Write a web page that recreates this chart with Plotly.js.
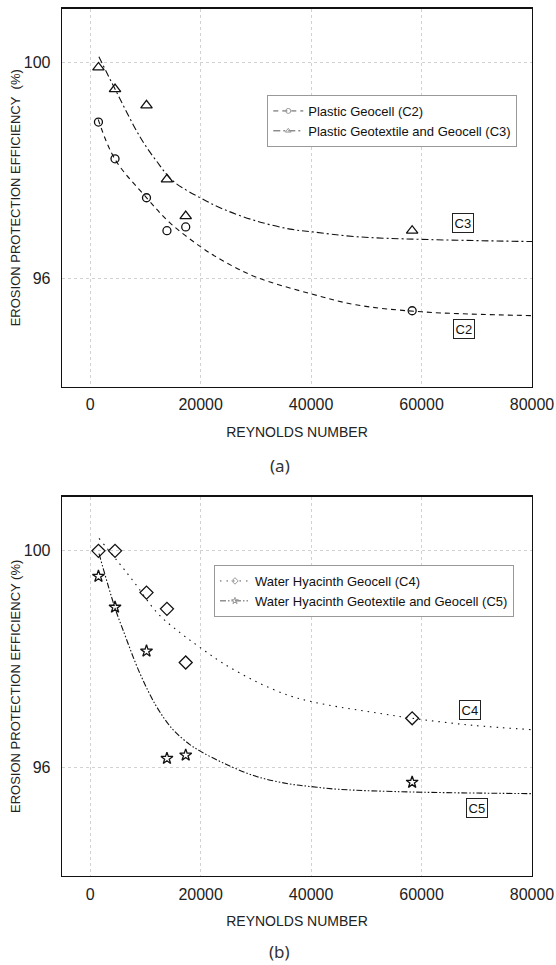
<!DOCTYPE html>
<html>
<head>
<meta charset="utf-8">
<script src="https://cdn.plot.ly/plotly-3.0.1.min.js"></script>
<style>html,body{margin:0;padding:0;background:#fff;}#chart{width:556px;height:965px;}</style>
</head>
<body>
<div id="chart"></div>
<script>
// Measured points (Reynolds number vs erosion protection efficiency, %)
const reynolds = [1500, 4500, 10200, 13900, 17300, 58300];
const c2Eff = [98.90, 98.22, 97.50, 96.89, 96.96, 95.41];
const c3Eff = [99.91, 99.51, 99.21, 97.84, 97.16, 96.89];
const c4Eff = [100.00, 100.00, 99.23, 98.93, 97.94, 96.91];
const c5Eff = [99.53, 98.96, 98.15, 96.17, 96.23, 95.73];

// Trend curves
const c2CurveX = [1450, 4500, 10300, 14400, 19900, 24100, 30100, 40100, 48100, 60000, 80000];
const c2CurveY = [98.95, 98.21, 97.49, 97.04, 96.60, 96.33, 96.03, 95.72, 95.52, 95.39, 95.32];
const c3CurveX = [1575, 4500, 9000, 12000, 15000, 19900, 24100, 30100, 36200, 40100, 48100, 60000, 80000];
const c3CurveY = [100.11, 99.51, 98.63, 98.18, 97.81, 97.50, 97.29, 97.07, 96.92, 96.87, 96.78, 96.73, 96.69];
const c4CurveX = [1600, 4800, 7900, 12200, 16400, 20000, 24000, 30000, 36000, 40000, 45000, 51200, 58300, 69300, 80000];
const c4CurveY = [100.23, 99.83, 99.43, 98.85, 98.48, 98.21, 97.93, 97.59, 97.33, 97.22, 97.12, 97.02, 96.91, 96.78, 96.70];
const c5CurveX = [1600, 4450, 5950, 8960, 12000, 15000, 18000, 20000, 24000, 30000, 36000, 40000, 45000, 58300, 80000];
const c5CurveY = [99.95, 98.96, 98.54, 97.75, 97.13, 96.70, 96.43, 96.30, 96.09, 95.84, 95.70, 95.65, 95.60, 95.55, 95.52];

const seriesNames = ["Plastic Geocell (C2)", "Plastic Geotextile and Geocell (C3)",
                     "Water Hyacinth Geocell (C4)", "Water Hyacinth Geotextile and Geocell (C5)"];
const curveLabels = ["C2", "C3", "C4", "C5"];
const xTickVals = [0, 20000, 40000, 60000, 80000];
const yTickVals = [96, 100];
const xTitle = "REYNOLDS NUMBER";
const yTitleA = "EROSION PROTECTION EFFICIENCY\u00a0 (%)";
const yTitleB = "EROSION PROTECTION EFFICIENCY (%)";

const FONT = "Liberation Sans, Arial, sans-serif";
const dashC2 = "5px,4px";
const dashC3 = "7px,3px,2px,3px";
const dashC4 = "1.5px,5px";
const dashC5 = "6px,2px,1.5px,2px,1.5px,2px";

function curve(x, y, dash, xa, ya) {
  return {x: x, y: y, xaxis: xa, yaxis: ya, mode: "lines", showlegend: false,
          line: {color: "#111", width: 1.1, dash: dash, shape: "spline", smoothing: 1}, hoverinfo: "skip"};
}
function pts(x, y, sym, size, xa, ya) {
  return {x: x, y: y, xaxis: xa, yaxis: ya, mode: "markers", showlegend: false,
          marker: {symbol: sym, size: size, color: "#111", line: {color: "#111", width: 1.3}}};
}
function leg(name, sym, dash, xa, ya, lg) {
  return {x: [null], y: [null], xaxis: xa, yaxis: ya, mode: "lines+markers", name: name, legend: lg,
          line: {color: "#444", width: 0.9, dash: dash},
          marker: {symbol: sym, size: 5, color: "#999", line: {color: "#999", width: 1}}};
}

const data = [
  curve(c2CurveX, c2CurveY, dashC2, "x", "y"),
  curve(c3CurveX, c3CurveY, dashC3, "x", "y"),
  pts(reynolds, c2Eff, "circle-open", 8, "x", "y"),
  pts(reynolds, c3Eff, "triangle-up-open", 10, "x", "y"),
  leg(seriesNames[0], "circle-open", dashC2, "x", "y", "legend"),
  leg(seriesNames[1], "triangle-up-open", dashC3, "x", "y", "legend"),
  curve(c4CurveX, c4CurveY, dashC4, "x2", "y2"),
  curve(c5CurveX, c5CurveY, dashC5, "x2", "y2"),
  pts(reynolds, c4Eff, "diamond-open", 10, "x2", "y2"),
  pts(reynolds, c5Eff, "star-open", 9, "x2", "y2"),
  leg(seriesNames[2], "diamond-open", dashC4, "x2", "y2", "legend2"),
  leg(seriesNames[3], "star-open", dashC5, "x2", "y2", "legend2")
];

function xAxis(anchor) {
  return {domain: [0, 1], anchor: anchor, range: [-5100, 80000], tickvals: xTickVals, tickformat: "d",
          showgrid: true, gridcolor: "#d2d2d2", griddash: "3px,3px", gridwidth: 1, zeroline: false,
          showline: true, mirror: true, linecolor: "#111", linewidth: 1.3, ticks: "",
          ticklabelstandoff: 3, tickfont: {family: FONT, size: 16, color: "#222"},
          title: {text: xTitle, font: {family: FONT, size: 14, color: "#222"}, standoff: 14}};
}
function yAxis(anchor, dom, title) {
  return {domain: dom, anchor: anchor, range: [94, 101], tickvals: yTickVals,
          showgrid: true, gridcolor: "#d2d2d2", griddash: "3px,3px", gridwidth: 1, zeroline: false,
          showline: true, mirror: true, linecolor: "#111", linewidth: 1.3, ticks: "",
          ticklabelstandoff: 7, tickfont: {family: FONT, size: 16, color: "#222"},
          title: {text: title, font: {family: FONT, size: 13, color: "#222"}, standoff: 0}};
}
function box(text, x, y, xr, yr) {
  return {text: text, x: x, y: y, xref: xr, yref: yr, showarrow: false,
          font: {family: FONT, size: 13, color: "#111"}, bordercolor: "#222", borderwidth: 1, borderpad: 1.5,
          bgcolor: "#fff"};
}
const legendStyle = {font: {family: FONT, size: 13, color: "#111"}, bgcolor: "#fff",
                     bordercolor: "#999", borderwidth: 1, xanchor: "left", yanchor: "top",
                     itemsizing: "trace", tracegroupgap: 0};

const layout = {
  width: 556, height: 965,
  margin: {l: 62, r: 24, t: 8, b: 89},
  paper_bgcolor: "#fff", plot_bgcolor: "#fff",
  font: {family: FONT, color: "#222"},
  xaxis: xAxis("y"),
  yaxis: yAxis("x", [0.5634, 0.9994], yTitleA),
  xaxis2: xAxis("y2"),
  yaxis2: yAxis("x2", [0, 0.437], yTitleB),
  legend: Object.assign({x: 0.4368, y: 0.8998}, legendStyle),
  legend2: Object.assign({x: 0.3234, y: 0.3583}, legendStyle),
  annotations: [
    box(curveLabels[0], 67750, 95.07, "x", "y"),
    box(curveLabels[1], 67480, 97.03, "x", "y"),
    box(curveLabels[2], 68840, 97.07, "x2", "y2"),
    box(curveLabels[3], 70000, 95.25, "x2", "y2"),
    {text: "(a)", x: 0.4638, y: 0.4735, xref: "paper", yref: "paper", showarrow: false,
     xanchor: "center", yanchor: "middle",
     font: {family: "Noto Sans, sans-serif", size: 17, color: "#333"}},
    {text: "(b)", x: 0.4638, y: -0.0872, xref: "paper", yref: "paper", showarrow: false,
     xanchor: "center", yanchor: "middle",
     font: {family: "Noto Sans, sans-serif", size: 17, color: "#333"}}
  ],
  showlegend: true
};

Plotly.newPlot("chart", data, layout, {staticPlot: true, displayModeBar: false});
</script>
</body>
</html>
